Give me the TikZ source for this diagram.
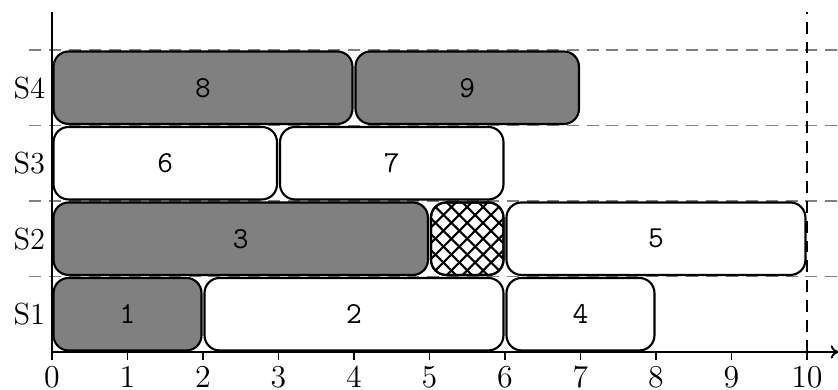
\documentclass[tikz,border=0pt]{standalone}
\usetikzlibrary{arrows.meta}
\begin{document}
\begin{tikzpicture}[x=1cm,y=1cm,
  font=\fontsize{11.5}{13}\selectfont,
  jobbox/.style={draw=black,line width=0.8pt,rounded corners=0.2cm},
  grayjob/.style={jobbox,fill=gray},
  whitejob/.style={jobbox,fill=white},
  joblabel/.style={font=\fontsize{11.5}{13}\selectfont\ttfamily},
  rowline/.style={gray,line width=0.7pt,dash pattern=on 4.5pt off 3pt},
  hatchline/.style={line width=0.8pt},
  axisline/.style={line width=0.7pt}]
\useasboundingbox (-0.689,-0.503) rectangle (10.411,4.662);
% row separators
\foreach \r in {1,2,3,4} \draw[rowline] (-0.3,\r) -- (10.42,\r);
% deadline
\draw[line width=0.8pt,dash pattern=on 4.5pt off 3pt] (10,0) -- (10,4.5);
% jobs
\newcommand{\job}[6]{% name, x0, x1, row, style, label
  \draw[#5] (#2+0.02,#4+0.02) rectangle (#3-0.02,#4+0.98);
  \node[joblabel] (#1) at ({(#2+#3)/2},#4+0.5) {#6};}
\job{j1}{0}{2}{0}{grayjob}{1}
\job{j2}{2}{6}{0}{whitejob}{2}
\job{j4}{6}{8}{0}{whitejob}{4}
\job{j3}{0}{5}{1}{grayjob}{3}
\job{j5}{6}{10}{1}{whitejob}{5}
\job{j6}{0}{3}{2}{whitejob}{6}
\job{j7}{3}{6}{2}{whitejob}{7}
\job{j8}{0}{4}{3}{grayjob}{8}
\job{j9}{4}{7}{3}{grayjob}{9}
% idle (hatched)
\draw[jobbox,fill=white] (5.02,1.02) rectangle (5.98,1.98);
\begin{scope}
  \clip[rounded corners=0.2cm] (5.02,1.02) rectangle (5.98,1.98);
  \foreach \i in {-6,...,6} {
    \draw[hatchline] ({5.5+\i*0.21-0.6},0.9) -- ++(1.2,1.2);
    \draw[hatchline] ({5.5+\i*0.21+0.6},0.9) -- ++(-1.2,1.2);
  }
\end{scope}
\draw[jobbox] (5.02,1.02) rectangle (5.98,1.98);
% axes
\draw[axisline] (0,0) -- (0,4.5);
\draw[axisline,-{To[length=3pt,width=5pt]}] (0,0) -- (10.42,0);
\foreach \x in {0,...,10} {
  \draw[axisline] (\x,0) -- (\x,-0.1);
  \node (t\x) at (\x,-0.33) {$\x$};
}
\foreach \r in {1,2,3,4} \node (s\r) at (-0.3,\r-0.5) {S\r};
\end{tikzpicture}
\end{document}
